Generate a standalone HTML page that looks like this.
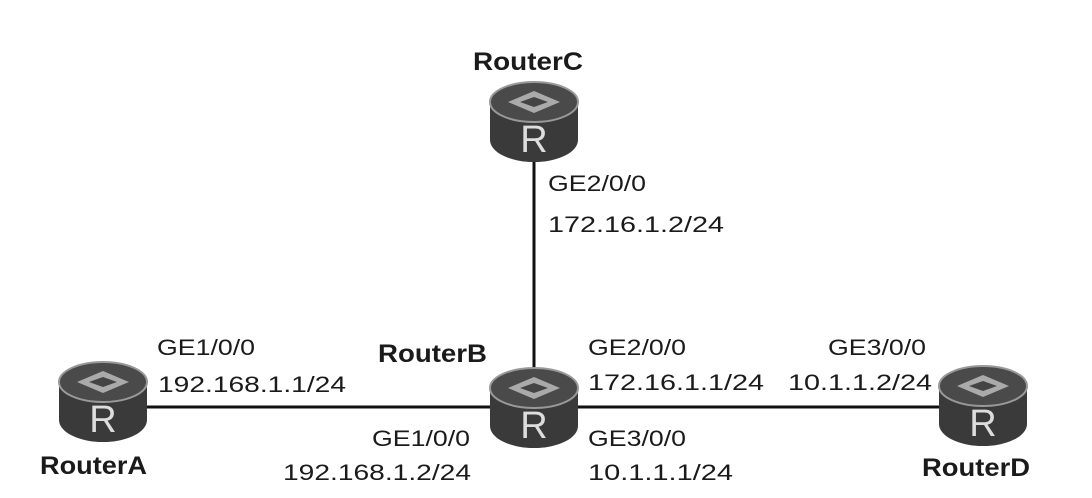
<!DOCTYPE html>
<html><head><style>
body{margin:0;background:#fff}
svg{display:block}
text{font-family:"Liberation Sans",Arial,sans-serif;fill:#1a1a1a}
.b{font-weight:bold;font-size:25px}
.n{font-size:22px}
</style></head><body>
<svg width="1092" height="498" viewBox="0 0 1092 498">
<defs>
<g id="r">
<path d="M-44,-20 L-44,18 A44,22 0 0 0 44,18 L44,-20 Z" fill="#3a3a3a"/>
<ellipse cx="0" cy="-20" rx="44" ry="20" fill="#4a4a4a" stroke="#999" stroke-width="2"/>
<path d="M-26,-20 L0,-31 L26,-20 L0,-9 Z" fill="#aaa"/>
<path d="M-14,-20 L0,-25 L14,-20 L0,-15 Z" fill="#444"/>
<text x="0" y="30" text-anchor="middle" style="font-size:38px;fill:#ddd;font-family:'Liberation Sans',sans-serif">R</text>
</g>
</defs>
<line x1="534" y1="150" x2="534" y2="380" stroke="#111" stroke-width="3"/>
<line x1="140" y1="407" x2="945" y2="407" stroke="#111" stroke-width="3"/>
<use href="#r" x="534" y="122"/>
<use href="#r" x="103" y="402"/>
<use href="#r" x="534" y="408"/>
<use href="#r" x="983" y="406"/>
<text class="b" x="473" y="70" textLength="110" lengthAdjust="spacingAndGlyphs">RouterC</text>
<text class="b" x="378" y="362" textLength="109" lengthAdjust="spacingAndGlyphs">RouterB</text>
<text class="b" x="40" y="474" textLength="107" lengthAdjust="spacingAndGlyphs">RouterA</text>
<text class="b" x="922" y="476" textLength="108" lengthAdjust="spacingAndGlyphs">RouterD</text>
<text class="n" x="548" y="191" textLength="98" lengthAdjust="spacingAndGlyphs">GE2/0/0</text>
<text class="n" x="548" y="232" textLength="176" lengthAdjust="spacingAndGlyphs">172.16.1.2/24</text>
<text class="n" x="157" y="355" textLength="98" lengthAdjust="spacingAndGlyphs">GE1/0/0</text>
<text class="n" x="158" y="392" textLength="188" lengthAdjust="spacingAndGlyphs">192.168.1.1/24</text>
<text class="n" x="588" y="355" textLength="98" lengthAdjust="spacingAndGlyphs">GE2/0/0</text>
<text class="n" x="588" y="390" textLength="176" lengthAdjust="spacingAndGlyphs">172.16.1.1/24</text>
<text class="n" x="828" y="355" textLength="98" lengthAdjust="spacingAndGlyphs">GE3/0/0</text>
<text class="n" x="788" y="390" textLength="144" lengthAdjust="spacingAndGlyphs">10.1.1.2/24</text>
<text class="n" x="372" y="446" textLength="98" lengthAdjust="spacingAndGlyphs">GE1/0/0</text>
<text class="n" x="283" y="480" textLength="188" lengthAdjust="spacingAndGlyphs">192.168.1.2/24</text>
<text class="n" x="588" y="446" textLength="98" lengthAdjust="spacingAndGlyphs">GE3/0/0</text>
<text class="n" x="588" y="480" textLength="145" lengthAdjust="spacingAndGlyphs">10.1.1.1/24</text>
</svg>
</body></html>
